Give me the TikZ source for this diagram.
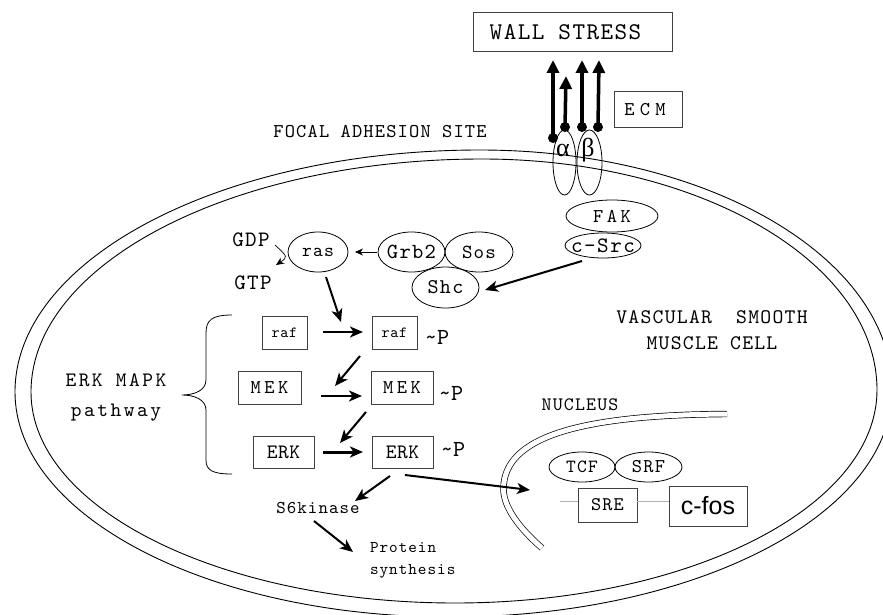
\documentclass[tikz,border=0pt]{standalone}
\usepackage{fontspec}
\newfontfamily\sansf{Liberation Sans}
\newfontfamily\seriff{Liberation Serif}
\newfontfamily\cour{lmmono10-regular.otf}
\usetikzlibrary{arrows.meta,shapes.geometric}
\newcommand\mt[2]{\cour\fontsize{#1}{#1}\selectfont\addfontfeatures{LetterSpace=#2}}
\newcommand\mtt[3]{\cour\fontsize{#1}{#3}\selectfont\addfontfeatures{LetterSpace=#2}}
\newcommand\fsz[1]{\fontsize{#1}{#1}\selectfont}
\begin{document}
\begin{tikzpicture}[x=1pt,y=-1pt,
  every node/.style={inner sep=0pt, outer sep=0pt},
  box/.style={draw=black!75, line width=1pt, rectangle, inner sep=0pt},
  oval/.style={draw, line width=0.8pt, ellipse, inner sep=0pt},
  mem/.style={line width=0.9pt},
  arr/.style={line width=2pt, -{Stealth[length=13pt,width=11pt,inset=3.5pt]}},
  thinarr/.style={line width=0.7pt, -{Stealth[length=8pt,width=7pt,inset=2.5pt]}},
  stress/.style={line width=3.5pt, -{Triangle[length=13pt,width=12pt]}},
  tdot/.style={circle, fill, minimum size=10pt, inner sep=0pt}
]
\useasboundingbox (0,0) rectangle (883,615);

% cell membrane (outer and inner lines)
\draw[mem] (892,390) .. controls (892,257.4) and (707.5,150) .. (480,150)
  .. controls (223.2,150) and (15,258.3) .. (15,392)
  .. controls (15,516.3) and (209.7,617) .. (450,617)
  .. controls (694.1,617) and (892,515.4) .. (892,390) -- cycle;
\draw[mem] (877,390) .. controls (877,262.4) and (700.2,159) .. (482,159)
  .. controls (232.9,159) and (31,263.3) .. (31,392)
  .. controls (31,508.5) and (220.8,603) .. (455,603)
  .. controls (688.1,603) and (877,507.6) .. (877,390) -- cycle;

% nucleus envelope
\draw[line width=0.7pt, double, double distance=5pt]
  (542,548) .. controls (519,528) and (503.5,507) .. (503.5,489)
  .. controls (503.5,436) and (582,415) .. (727,414);

% top: wall stress, ECM, integrins
\node[box, minimum width=199pt, minimum height=39pt, label={[font=\mt{24}{6}, xshift=-7pt]center:WALL STRESS}] (ws) at (572.5,32.5) {};
\node[box, minimum width=68pt, minimum height=36pt, label={[font=\mt{19.5}{27}, xshift=-3pt]center:ECM}] (ecm) at (648,110) {};

\node[tdot] (d1) at (553,138) {};
\node[tdot] (d2) at (565,127) {};
\node[tdot] (d3) at (582,127) {};
\node[tdot] (d4) at (598,127) {};
\coordinate (h1) at (553,60);
\coordinate (h2) at (566,76);
\coordinate (h3) at (582,60);
\coordinate (h4) at (599,60);
\draw[stress] (d1.center) -- (h1);
\draw[stress] (d2.center) -- (h2);
\draw[stress] (d3.center) -- (h3);
\draw[stress] (d4.center) -- (h4);

\node[oval, minimum width=23pt, minimum height=65pt] (alpha) at (564.5,162.5) {};
\node[oval, minimum width=25pt, minimum height=65pt] (beta) at (589.5,162.5) {};
\node[font=\seriff\fsz{26}] (alab) at (563,150) {α};
\node[font=\seriff\fsz{26}] (blab) at (588,150) {β};

\node[font=\mt{19.5}{6}] (fas) at (380,132) {FOCAL ADHESION SITE};

% FAK / c-Src
\node[oval, fill=white, minimum width=92pt, minimum height=32pt, label={[font=\mt{19.5}{18}]center:FAK}] (fak) at (612,216) {};
\node[oval, fill=white, minimum width=76pt, minimum height=25pt, label={[font=\mt{22}{7}]center:c-Src}] (csrc) at (603,245.5) {};

% ras complex
\node[oval, minimum width=60pt, minimum height=40pt, label={[font=\mt{18.8}{6}]center:ras}] (ras) at (318,252) {};
\node[oval, minimum width=67pt, minimum height=40pt, label={[font=\mt{21.5}{6}]center:Grb2}] (grb2) at (411.5,252) {};
\node[oval, minimum width=68pt, minimum height=40pt, label={[font=\mt{20}{6}]center:Sos}] (sos) at (479,252) {};
\node[oval, fill=white, minimum width=67pt, minimum height=41pt, label={[font=\mt{21}{6}]center:Shc}] (shc) at (445.5,287.5) {};

\node[font=\mt{22}{6}] (gdp) at (251,240) {GDP};
\node[font=\mt{22}{6}] (gtp) at (253,283) {GTP};
\coordinate (g1) at (275,245);
\coordinate (g2) at (276,265);
\draw[thinarr] (g1) .. controls (288,257) .. (g2);

\draw[thinarr, shorten >=7pt, shorten <=1pt] (grb2) -- (ras);

\coordinate (cs1) at (582,261);
\coordinate (cs2) at (485,290);
\draw[arr] (cs1) -- (cs2);

\coordinate (r1) at (326,277);
\coordinate (r2) at (341,322);
\draw[arr] (r1) -- (r2);

% ERK MAPK cascade
\node[box, minimum width=45pt, minimum height=33pt, font=\mt{15.5}{4}] (raf1) at (284.5,332.5) {raf};
\node[box, minimum width=45pt, minimum height=33pt, font=\mt{15.5}{4}] (raf2) at (394.5,332.5) {raf};
\node[box, minimum width=63pt, minimum height=33pt, font=\mt{19.5}{18}] (mek1) at (269.5,387.5) {MEK};
\node[box, minimum width=62pt, minimum height=33pt, font=\mt{19.5}{18}] (mek2) at (402,387.5) {MEK};
\node[box, minimum width=61pt, minimum height=32pt, font=\mt{20.5}{2}] (erk1) at (283.5,452) {ERK};
\node[box, minimum width=61pt, minimum height=32pt, font=\mt{20.5}{2}] (erk2) at (402.5,452) {ERK};

\node[font=\mt{23}{1}] (p1) at (437,337) {\textasciitilde P};
\node[font=\mt{23}{1}] (p2) at (451,393) {\textasciitilde P};
\node[font=\mt{23}{1}] (p3) at (453,449) {\textasciitilde P};

\coordinate (a1s) at (323,332);
\coordinate (a1e) at (363,332);
\draw[arr] (a1s) -- (a1e);
\coordinate (a2s) at (321,396);
\coordinate (a2e) at (362,396);
\draw[arr] (a2s) -- (a2e);
\coordinate (a3s) at (323,452);
\coordinate (a3e) at (363,452);
\draw[arr, line width=3pt] (a3s) -- (a3e);
\coordinate (b1s) at (360,356);
\coordinate (b1e) at (335,386);
\draw[arr] (b1s) -- (b1e);
\coordinate (b2s) at (366,412);
\coordinate (b2e) at (340,443);
\draw[arr] (b2s) -- (b2e);

% brace
\draw[line width=0.8pt] (232,315) .. controls (212,315) and (206,320) .. (206,333)
  -- (206,380) .. controls (206,390) and (195,395) .. (182,395)
  .. controls (195,395) and (206,400) .. (206,410)
  -- (206,460) .. controls (206,470) and (212,474) .. (232,474);
\node[font=\mtt{20.5}{12}{30}, align=center] (erkmapk) at (116,397) {ERK MAPK\\pathway};

% downstream
\node[font=\mt{18}{6}] (s6k) at (318,508) {S6kinase};
\node[font=\mtt{16.4}{6}{22}, align=left, anchor=west] (prot) at (370,560) {Protein\\synthesis};
\coordinate (e1) at (390,476);
\coordinate (e2) at (355,501);
\draw[arr] (e1) -- (e2);
\coordinate (s1) at (314,521);
\coordinate (s2) at (353,552);
\draw[arr] (s1) -- (s2);
\coordinate (n1) at (405,475);
\coordinate (n2) at (530,490);
\draw[arr] (n1) -- (n2);

\node[font=\mtt{20.7}{6}{26}, align=center] (vsmc) at (712,330) {VASCULAR\ \ SMOOTH\\MUSCLE CELL};

% nucleus contents
\node[font=\mt{19}{6}] (nuc) at (580,405) {NUCLEUS};
\node[oval, minimum width=66pt, minimum height=30pt, label={[font=\mt{18.6}{6}]center:TCF}] (tcf) at (582,467) {};
\node[oval, minimum width=67pt, minimum height=30pt, label={[font=\mt{19.5}{6}]center:SRF}] (srf) at (648.5,467) {};
\node[box, minimum width=59pt, minimum height=34pt, font=\mt{19.3}{6}] (sre) at (607.5,505) {SRE};
\node[box, minimum width=78pt, minimum height=40pt, font=\sansf\fsz{25}] (cfos) at (708,506) {c-fos};
\coordinate (dna) at (560,501);
\draw[gray!60, line width=1pt] (dna) -- (dna -| sre.west);
\draw[gray!60, line width=1pt] (sre.east |- dna) -- (cfos.west |- dna);
\end{tikzpicture}
\end{document}
